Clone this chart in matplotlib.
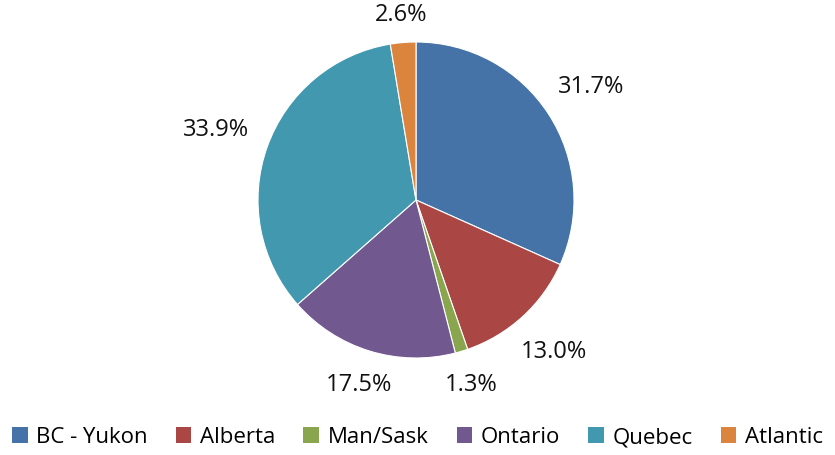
import numpy as np
import matplotlib.pyplot as plt
from matplotlib.patches import Patch

# 数据
regions = ['BC - Yukon', 'Alberta', 'Man/Sask', 'Ontario', 'Quebec', 'Atlantic']
shares = [31.7, 13.0, 1.3, 17.5, 33.9, 2.6]
colors = ['#4572A7', '#AA4643', '#89A54E', '#71588F', '#4198AF', '#DB843D']

plt.rcParams['font.family'] = ['Open Sans', 'DejaVu Sans']

fig = plt.figure(figsize=(8.35, 4.56), dpi=100)
ax = fig.add_axes([0, 0, 1, 1])

cx, cy, R = 416, 255, 158
wedges, _ = ax.pie(
    shares, colors=colors, startangle=90, counterclock=False,
    center=(cx, cy), radius=R,
    wedgeprops=dict(edgecolor='white', linewidth=0.8))

# 数据标签: 放在扇形外侧, 横向方向稍远一些 (文字较宽)
for w, v in zip(wedges, shares):
    ang = np.deg2rad((w.theta1 + w.theta2) / 2)
    d = R + 26 + 30 * abs(np.cos(ang))
    ax.text(cx + d * np.cos(ang), cy + d * np.sin(ang), '%.1f%%' % v,
            ha='center', va='center', fontsize=17, color='#111111')

# pie 会重设坐标范围, 之后再设
ax.set_xlim(0, 835)
ax.set_ylim(0, 456)
ax.set_aspect('equal')
ax.axis('off')

handles = [Patch(facecolor=c, edgecolor='none') for c in colors]
ax.legend(handles, regions, loc='center', bbox_to_anchor=(0.5, 1 - 438 / 456),
          bbox_transform=fig.transFigure, ncol=6, frameon=False, fontsize=16,
          handlelength=0.7, handleheight=0.7, handletextpad=0.4, columnspacing=1.25)

fig.savefig('out.png', dpi=100)
